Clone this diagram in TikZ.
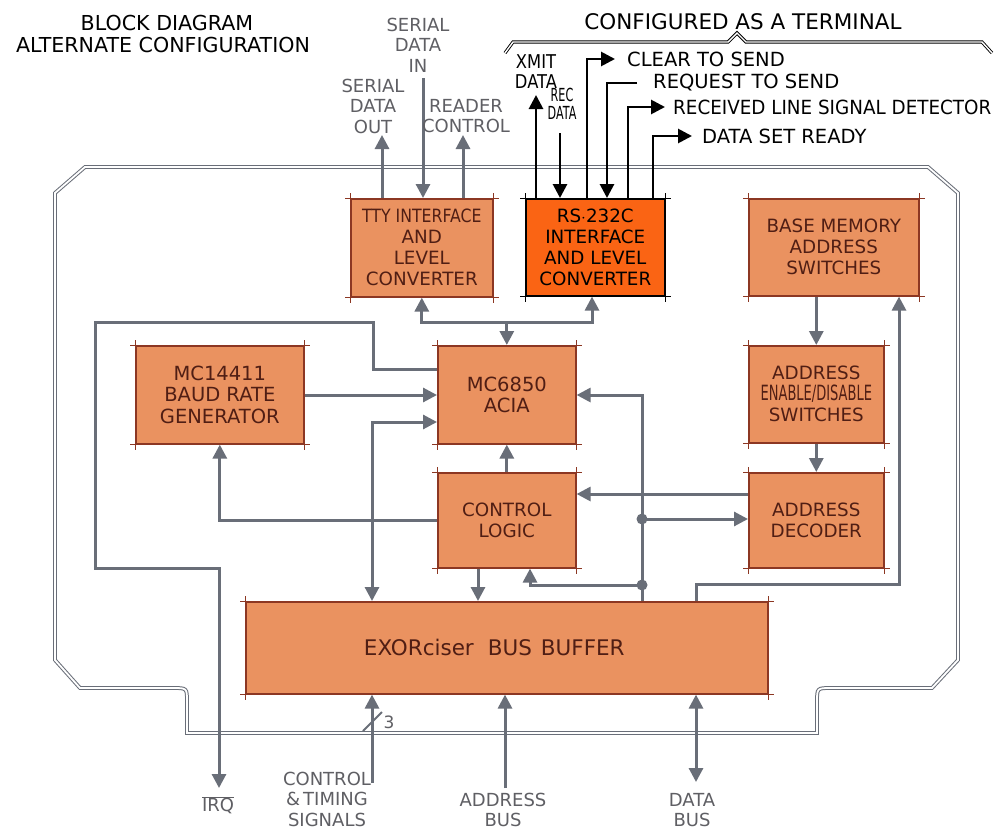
\documentclass[tikz,border=0pt]{standalone}
\usepackage{fontspec}
\setmainfont{DejaVu Sans}
\newfontfamily\hand{DejaVu Sans}
\newfontfamily\handn[FakeStretch=0.86]{DejaVu Sans}
\newfontfamily\handm[FakeStretch=0.94]{DejaVu Sans}
\newfontfamily\handc[FakeStretch=0.62]{DejaVu Sans}
\usetikzlibrary{arrows.meta}
\definecolor{boxfill}{RGB}{234,146,96}
\definecolor{rsfill}{RGB}{250,100,20}
\definecolor{boxedge}{RGB}{140,55,35}
\definecolor{boxtext}{RGB}{80,30,20}
\definecolor{wirec}{RGB}{105,110,120}
\definecolor{lblc}{RGB}{95,95,100}
\tikzset{
  arr/.tip={Triangle[length=14pt,width=14pt]},
  blk/.style={draw=boxedge, line width=1.6pt, fill=boxfill, text=boxtext,
    font=\hand\fontsize{18.3}{21}\selectfont, align=center, inner sep=0pt, anchor=north west},
  rsblk/.style={blk, fill=rsfill, draw=black, text=black},
  wire/.style={draw=wirec, line width=3pt},
  bwire/.style={draw=black, line width=2.8pt},
  frame/.style={draw=wirec, double=white, double distance=1.8pt, line width=1pt},
  glbl/.style={text=lblc, font=\hand\fontsize{18}{20.5}\selectfont, align=center, inner sep=0pt},
  klbl/.style={text=black, font=\hand\fontsize{19.5}{21}\selectfont, align=center, inner sep=0pt},
  dot/.style={circle, fill=wirec, inner sep=0pt, minimum size=11pt},
  tick/.style={draw=boxedge, line width=0.8pt},
}
\newcommand{\boxticks}[2][boxedge]{%
  \draw[tick, draw=#1] ([xshift=-5pt]#2.north west) -- ([xshift=5pt]#2.north east)
    ([xshift=-5pt]#2.south west) -- ([xshift=5pt]#2.south east)
    ([yshift=5pt]#2.north west) -- ([yshift=-5pt]#2.south west)
    ([yshift=5pt]#2.north east) -- ([yshift=-5pt]#2.south east);}
\begin{document}
\begin{tikzpicture}[x=1pt,y=-1pt]
\useasboundingbox (0,0) rectangle (998,830);
\fill[white] (0,0) rectangle (998,830);

% titles
\node[klbl, font=\hand\fontsize{20.6}{22}\selectfont] (t1) at (167,23) {BLOCK DIAGRAM};
\node[klbl, font=\hand\fontsize{20.6}{22}\selectfont] (t2) at (163,45) {ALTERNATE CONFIGURATION};
\node[klbl, font=\hand\fontsize{21.5}{22}\selectfont] (t3) at (743,22) {CONFIGURED AS A TERMINAL};
\draw[draw=black, double=white, double distance=1.4pt, line width=0.9pt]
  (505,53) -- (513,42) -- (728,42) -- (737,33) -- (746,42) -- (982,42) -- (992,53);

% outer frame bus
\draw[frame] (187,733) -- (187,702) .. controls (187,688) .. (173,688) -- (80,688) -- (55,660)
  -- (55,193) -- (85,167) -- (928,167) -- (958,193) -- (958,660) -- (932,688) -- (831,688)
  .. controls (817,688) .. (817,702) -- (817,733) -- cycle;

% blocks
\node[blk, minimum width=142pt, minimum height=98pt] (tty) at (350,198) {{\handn TTY INTERFACE}\\AND\\LEVEL\\CONVERTER};
\node[rsblk, minimum width=139pt, minimum height=97pt] (rs) at (525,198) {RS$\cdot$232C\\INTERFACE\\AND LEVEL\\CONVERTER};
\node[blk, minimum width=170pt, minimum height=97pt] (base) at (748,198) {BASE MEMORY\\ADDRESS\\SWITCHES};
\node[blk, minimum width=135pt, minimum height=97pt] (aen) at (748,345) {ADDRESS\\{\handc\fontsize{21}{21}\selectfont ENABLE/DISABLE}\\SWITCHES};
\node[blk, minimum width=135pt, minimum height=95pt] (dec) at (748,472) {ADDRESS\\DECODER};
\node[blk, minimum width=168pt, minimum height=98pt, font=\hand\fontsize{19.5}{21.7}\selectfont] (baud) at (135,345) {MC14411\\BAUD RATE\\GENERATOR};
\node[blk, minimum width=138pt, minimum height=98pt, font=\hand\fontsize{19.5}{21.7}\selectfont] (acia) at (437,345) {MC6850\\ACIA};
\node[blk, minimum width=138pt, minimum height=95pt] (ctl) at (437,472) {CONTROL\\LOGIC};
\node[blk, minimum width=522pt, minimum height=92pt, font=\hand\fontsize{21.5}{22}\selectfont] (buf) at (245,601) {EXORciser\hspace{14pt}BUS\hspace{9pt}BUFFER\hspace{25pt}};
\boxticks{tty}
\boxticks[black]{rs}
\boxticks{base}
\boxticks{aen}
\boxticks{dec}
\boxticks{baud}
\boxticks{acia}
\boxticks{ctl}
\boxticks{buf}

% TTY signals
\coordinate (sdo) at (382,135);
\coordinate (sdi) at (423,78);
\coordinate (rdc) at (463,135);
\draw[wire,-arr] (sdo |- tty.north) -- (sdo);
\draw[wire,-arr] (sdi) -- (sdi |- tty.north);
\draw[wire,-arr] (rdc |- tty.north) -- (rdc);
\node[glbl] (lsdi) at (418,45) {SERIAL\\DATA\\IN};
\node[glbl] (lsdo) at (373,106) {SERIAL\\DATA\\OUT};
\node[glbl] (lrdc) at (466,116) {READER\\CONTROL};

% RS-232 signals
\coordinate (xm) at (536,95);
\coordinate (rc) at (560,133);
\coordinate (cts) at (615,59);
\coordinate (rts) at (637,83);
\coordinate (rlsd) at (665,107);
\coordinate (dsr) at (692,136);
\draw[bwire,-arr] (xm |- rs.north) -- (xm);
\draw[bwire,-arr] (rc) -- (rc |- rs.north);
\draw[bwire,-arr] (587,0 |- rs.north) |- (cts);
\draw[bwire,-arr] (rts) -| (607,0 |- rs.north);
\draw[bwire,-arr] (628,0 |- rs.north) |- (rlsd);
\draw[bwire,-arr] (653,0 |- rs.north) |- (dsr);
\node[klbl, font=\handn\fontsize{19}{20}\selectfont] (lxm) at (536,72) {XMIT\\DATA};
\node[klbl, font=\handc\fontsize{18}{18}\selectfont] (lrc) at (562,104) {REC\\DATA};
\node[klbl, anchor=west] (lcts) at (627,59) {CLEAR TO SEND};
\node[klbl, anchor=west] (lrts) at (653,83) {REQUEST TO SEND};
\node[klbl, anchor=west, font=\handm\fontsize{19.5}{21}\selectfont] (lrlsd) at (673,107) {RECEIVED LINE SIGNAL DETECTOR};
\node[klbl, anchor=west] (ldsr) at (702,136) {DATA SET READY};

% internal wiring
\draw[wire,arr-arr] (tty.south) -- (tty.south |- 0,322) -- (592,322) -- (592,0 |- rs.south);
\draw[wire,-arr] (acia.north |- 0,322) -- (acia.north);
\draw[wire,-arr] (acia.west |- 0,369) -- (373,369) -- (373,322) -- (95,322) -- (95,568) -- (219,568) -- (219,788);
\draw[wire,-arr] (baud.east |- 0,395) -- (acia.west |- 0,395);
\draw[wire,arr-arr] (acia.west |- 0,422) -- (372,422) -- (372,0 |- buf.north);
\draw[wire,-arr] (ctl.west) -| (baud.south);
\draw[wire,-arr] (ctl.north) -- (acia.south);
\draw[wire,-arr] (478,0 |- ctl.south) -- (478,0 |- buf.north);
\coordinate (j1) at (642,519);
\coordinate (j2) at (642,585);
\draw[wire,-arr] (j1 |- buf.north) -- (642,395) -- (acia.east |- 0,395);
\draw[wire,-arr] (j2) -- (530,585) -- (530,0 |- ctl.south);
\draw[wire,-arr] (j1) -- (dec.west |- j1);
\draw[wire,-arr] (dec.west |- 0,494) -- (ctl.east |- 0,494);
\node[dot] at (j1) {};
\node[dot] at (j2) {};
\draw[wire,-arr] (aen.north |- base.south) -- (aen.north);
\draw[wire,-arr] (aen.south) -- (dec.north);
\draw[wire,-arr] (696,0 |- buf.north) -- (696,584) -- (899,584) -- (899,0 |- base.south);

% external bus connections
\coordinate (ctin) at (372,783);
\coordinate (abin) at (505,788);
\coordinate (dbin) at (696,782);
\draw[wire,-arr] (ctin) -- (ctin |- buf.south);
\draw[wire,-arr] (abin) -- (abin |- buf.south);
\draw[wire,arr-arr] (dbin |- buf.south) -- (dbin);
\draw[draw=wirec, line width=1.8pt] (363,731) -- (382,712);
\node[glbl, font=\hand\fontsize{17}{18}\selectfont] (n3) at (389,722) {3};

\node[glbl] (lirq) at (218,805) {$\overline{\mbox{\hand\fontsize{18}{20}\selectfont IRQ}}$};
\node[glbl] (lct) at (327,799) {CONTROL\\\&\,TIMING\\SIGNALS};
\node[glbl] (lab) at (503,810) {ADDRESS\\BUS};
\node[glbl] (ldb) at (692,810) {DATA\\BUS};
\end{tikzpicture}
\end{document}
